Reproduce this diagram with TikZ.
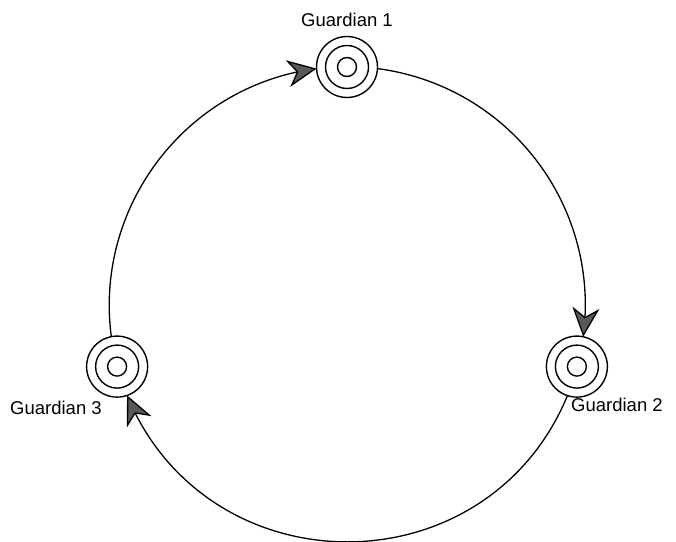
\documentclass[tikz,border=0pt]{standalone}
\usepackage{fontspec}
\setmainfont{Liberation Sans}
\usetikzlibrary{arrows.meta,bending}
\begin{document}
\begin{tikzpicture}[x=1pt,y=1pt,
  guardian/.style={circle, draw, line width=1.4pt, minimum size=61pt, inner sep=0pt, outer sep=0pt,
    path picture={\draw[line width=1.4pt] (path picture bounding box.center) circle[radius=21.5pt] circle[radius=9.5pt];}},
  lbl/.style={font=\fontsize{18.5}{22}\selectfont, inner sep=0pt},
  flow/.style={line width=1.3pt, -{Stealth[length=29pt,width=27pt,inset=9pt,fill=black!65,flex]}}]
\useasboundingbox (0,0) rectangle (676,541);
\coordinate (c) at (347,236);
\node[guardian] (g1) at ([shift={(90:238pt)}]c) {};
\node[guardian] (g2) at ([shift={(-15:238pt)}]c) {};
\node[guardian] (g3) at ([shift={(195:238pt)}]c) {};
\draw[flow] (g1.-3.75) to[out=-7.5,in=82.5] (g2.78.75);
\draw[flow] (g2.-108.75) to[out=-112.5,in=-67.5,looseness=1.23] (g3.-71.25);
\draw[flow] (g3.101.25) to[out=97.5,in=187.5] (g1.183.75);
\node[lbl, anchor=base] (l1) at (347,514) {Guardian 1};
\node[lbl, anchor=base west] (l2) at (571,130) {Guardian 2};
\node[lbl, anchor=base west] (l3) at (10,127) {Guardian 3};
\end{tikzpicture}
\end{document}
